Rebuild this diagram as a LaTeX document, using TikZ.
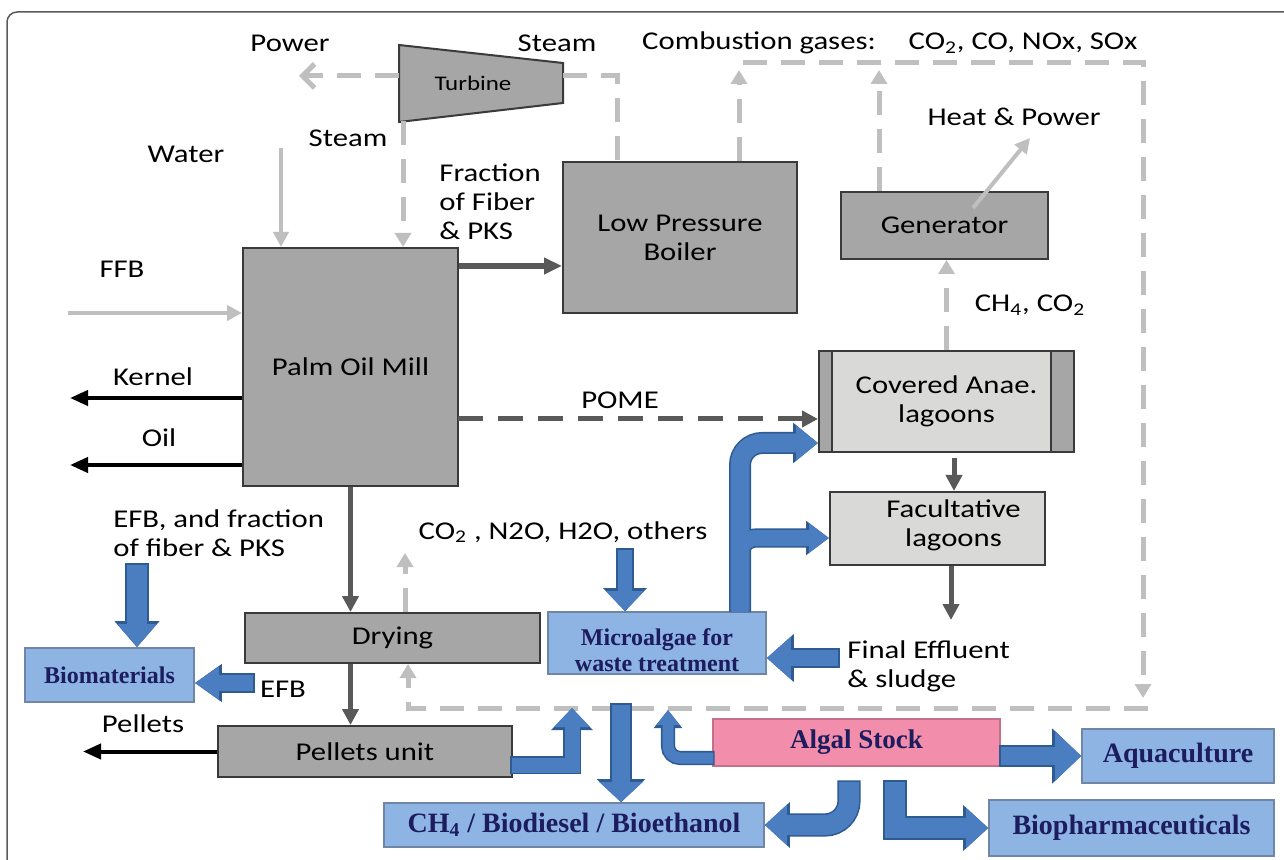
\documentclass[tikz,border=0pt]{standalone}
\usepackage{fontspec}
\setmainfont{Carlito}[FakeStretch=1.2]
\newfontfamily\bluefont{Liberation Serif}
\usetikzlibrary{arrows.meta, positioning}

\definecolor{boxg}{HTML}{A6A6A6}
\definecolor{lagg}{HTML}{D9D9D7}
\definecolor{edge}{HTML}{3A3A3A}
\definecolor{gas}{HTML}{BFBFBF}
\definecolor{dg}{HTML}{595959}
\definecolor{bfill}{HTML}{8DB4E2}
\definecolor{bedge}{HTML}{6F86A6}
\definecolor{navy}{HTML}{1C1C5E}
\definecolor{arw}{HTML}{4A7EC0}
\definecolor{arwe}{HTML}{2F5B93}
\definecolor{algpink}{HTML}{F28DAB}
\definecolor{framec}{HTML}{5A5A5A}

\tikzset{
  gbox/.style={draw=edge, fill=boxg, line width=1pt, inner sep=0pt, align=center,
    font=\fontsize{12.8}{14.5}\selectfont},
  lbox/.style={gbox, fill=lagg},
  covbox/.style={lbox, path picture={
      \fill[boxg] (path picture bounding box.north west) rectangle ([xshift=6.5pt]path picture bounding box.south west);
      \fill[boxg] ([xshift=-11.5pt]path picture bounding box.north east) rectangle (path picture bounding box.south east);
      \draw[edge, line width=1pt] ([xshift=6.5pt]path picture bounding box.north west) -- ([xshift=6.5pt]path picture bounding box.south west);
      \draw[edge, line width=1pt] ([xshift=-11.5pt]path picture bounding box.north east) -- ([xshift=-11.5pt]path picture bounding box.south east);
    }},
  bbox/.style={draw=bedge, fill=bfill, line width=0.8pt, inner sep=0pt, align=center,
    text=navy, font=\bluefont\bfseries\fontsize{14}{15}\selectfont},
  lbl/.style={inner sep=0pt, align=left, font=\fontsize{12.8}{14.5}\selectfont},
  gasline/.style={draw=gas, line width=2.5pt, dash pattern=on 12pt off 7pt},
  gasarr/.style={gasline, -{Triangle[width=8pt,length=7pt]}},
  garr/.style={draw=gas, line width=2pt, -{Triangle[width=7.5pt,length=7.5pt]}},
  darr/.style={draw=dg, line width=2.5pt, -{Triangle[width=8pt,length=8pt]}},
  karr/.style={draw=black, line width=2pt, -{Triangle[width=7.5pt,length=9pt]}},
}

% block arrow: shaft width, head width, head length (pt), path
\newcommand{\blockarrow}[5][]{%
  \pgfmathsetmacro\bsw{#2+1.6}\pgfmathsetmacro\bhw{#3+2.6}\pgfmathsetmacro\bhl{#4+1.5}%
  \draw[draw=arwe, line width=\bsw pt, shorten <=-0.8pt, -{Triangle[width=\bhw pt,length=\bhl pt]}, #1] #5;
  \draw[draw=arw, line width=#2pt, -{Triangle[width=#3pt,length=#4pt]}, #1] #5;}

\begin{document}
\begin{tikzpicture}[x=0.5pt, y=-0.5pt]
  \useasboundingbox (0,0) rectangle (1284,860);
  \fill[white] (0,0) rectangle (1284,860);

  % outer frame
  \draw[framec, line width=0.75pt, rounded corners=5pt] (7,900) |- (1320,12);

  % turbine
  \draw[edge, fill=boxg, line width=1pt] (399,45) -- (563,63) -- (563,103) -- (399,122) -- cycle;
  \node[inner sep=0pt, font=\fontsize{10.4}{12}\selectfont] (turbine) at (473,83) {Turbine};
  \coordinate (turbW) at (399,76);
  \coordinate (turbE) at (563,76);
  \coordinate (turbS) at (403,121.5);

  % process units
  \node[gbox, minimum width=107.5pt, minimum height=119pt] (mill) at (350.5,367) {Palm Oil Mill};
  \node[gbox, minimum width=117pt, minimum height=75.5pt] (boiler) at (680,237.5) {Low Pressure\\Boiler};
  \node[gbox, minimum width=103.5pt, minimum height=33.5pt] (gen) at (944.5,225.5) {Generator};
  \node[covbox, minimum width=127.5pt, minimum height=50.5pt] (covered) at (946.5,401.5) {Covered Anae.\\lagoons};
  \node[lbox, minimum width=107.5pt, minimum height=36.5pt,
    label={[lbl, align=center, xshift=8pt, yshift=1.5pt]center:Facultative\\lagoons}] (fac) at (937.5,528.5) {};
  \node[gbox, minimum width=147.5pt, minimum height=25pt] (drying) at (392.5,638) {Drying};
  \node[gbox, minimum width=147pt, minimum height=25.5pt] (pellets) at (365,751.5) {Pellets unit};

  % algae units
  \node[bbox, minimum width=109pt, minimum height=31pt,
    label={[text=navy, align=center, inner sep=0pt, yshift=-3.5pt, font=\bluefont\bfseries\fontsize{12}{13}\selectfont]center:Microalgae for\\waste treatment}] (micro) at (657,643) {};
  \node[bbox, minimum width=84.5pt, minimum height=27pt, font=\bluefont\bfseries\fontsize{12}{14}\selectfont] (biomat) at (109.5,675) {Biomaterials};
  \node[bbox, fill=algpink, draw=algpink!80!black, minimum width=143.5pt, minimum height=23.5pt, font=\bluefont\bfseries\fontsize{13.5}{15}\selectfont] (algal) at (856.5,742.5) {Algal Stock};
  \node[bbox, minimum width=96pt, minimum height=27pt] (aqua) at (1178,756) {Aquaculture};
  \node[bbox, minimum width=142.5pt, minimum height=28pt] (biopharm) at (1131.5,828) {Biopharmaceuticals};
  \node[bbox, minimum width=190pt, minimum height=22pt] (fuel) at (574,825) {CH\textsubscript{4} / Biodiesel / Bioethanol};

  % labels
  \node[lbl] (power) at (290,43) {Power};
  \node[lbl] (steamtop) at (557,43) {Steam};
  \node[lbl] (steamlow) at (348,138) {Steam};
  \node[lbl] (water) at (186,154) {Water};
  \node[lbl] (ffb) at (122,269) {FFB};
  \node[lbl, anchor=west] (fraction) at (439,201.5) {Fraction\\of Fiber\\\& PKS};
  \node[lbl] (combust) at (759,43) {Combustion gases:};
  \node[lbl] (gases) at (1023,43) {CO\textsubscript{2}, CO, NOx, SOx};
  \node[lbl] (heatpow) at (1014,117) {Heat \& Power};
  \node[lbl] (biogas) at (1030,305) {CH\textsubscript{4}, CO\textsubscript{2}};
  \node[lbl] (pome) at (620,400) {POME};
  \node[lbl] (kernel) at (153,377) {Kernel};
  \node[lbl] (oil) at (159,438) {Oil};
  \node[lbl, anchor=west] (efbtext) at (113,533) {EFB, and fraction\\of fiber \& PKS};
  \node[lbl] (emis) at (563,532) {CO\textsubscript{2} , N2O, H2O, others};
  \node[lbl] (efbsmall) at (283,689) {EFB};
  \node[lbl] (pellettext) at (143,724) {Pellets};
  \node[lbl, anchor=west] (effluent) at (847,666.5) {Final Effluent\\\& sludge};

  % free ends
  \coordinate (powerEnd) at (299,76);
  \coordinate (stm) at (617,76);
  \coordinate (waterA) at (281,148);
  \coordinate (ffbA) at (68,313);
  \coordinate (fib) at ([yshift=-9.5pt]mill.north east);
  \coordinate (cg1) at (739,70);
  \coordinate (cg2) at (879,70);
  \coordinate (topL) at (743,63);
  \coordinate (topR) at (1143,63);
  \coordinate (gasR) at (1143,698);
  \coordinate (botR) at (1148,708);
  \coordinate (botL) at (408,708);
  \coordinate (dg) at (405,553);
  \coordinate (heatA) at (973,208);
  \coordinate (heatB) at (1030,138);
  \coordinate (pm) at (458,419);
  \coordinate (lag) at (954,452);
  \coordinate (effA) at (951,620);
  \coordinate (kn) at (70,398);
  \coordinate (ol) at (70,465);
  \coordinate (pl) at (83,751.5);

  % gas and steam lines
  \draw[gasline, -{Straight Barb[width=12pt,length=6pt]}] (turbW) -- (powerEnd);
  \draw[gasline] (turbE) -- (stm) -- (stm |- boiler.north);
  \draw[gasarr] (turbS) -- (turbS |- mill.north);
  \draw[gasarr] (cg1 |- boiler.north) -- (cg1);
  \draw[gasarr] (cg2 |- gen.north) -- (cg2);
  \draw[gasarr] (topL) -- (topR) -- (gasR);
  \draw[gasarr] (botR) -- (botL) -- (botL |- drying.south);
  \draw[gasarr] (dg |- drying.north) -- (dg);
  \draw[gasarr] (covered.north) -- (covered.north |- gen.south);

  % solid gray inputs
  \draw[garr] (waterA) -- (waterA |- mill.north);
  \draw[garr] (ffbA) -- (ffbA -| mill.west);
  \draw[garr] (heatA) -- (heatB);

  % mill streams
  \draw[darr, line width=3pt, -{Triangle[width=8pt,length=9pt]}] (fib) -- (fib -| boiler.west);
  \draw[darr, dash pattern=on 12.5pt off 7.5pt] (pm) -- (pm -| covered.west);
  \draw[darr, dash pattern=on 12pt off 4pt, shorten <=3pt] (lag) -- (lag |- fac.north);
  \draw[darr] (effA |- fac.south) -- (effA);
  \draw[darr] (mill.south) -- (mill.south |- drying.north);
  \draw[darr] (mill.south |- drying.south) -- (mill.south |- pellets.north);
  \draw[karr] (kn -| mill.west) -- (kn);
  \draw[karr] (ol -| mill.west) -- (ol);
  \draw[karr] (pellets.west) -- (pl);

  % blue flows
  \coordinate (effB) at (838,658);
  \coordinate (emB) at (625,550);
  \coordinate (mu) at (740,612);
  \coordinate (cvIn) at (818,443);
  \coordinate (fcIn) at (829,538);
  \coordinate (plR) at (512,765);
  \coordinate (plU) at (572,708);
  \coordinate (md) at (621,705);
  \coordinate (agL) at (713,758);
  \coordinate (agU) at (668,710);
  \coordinate (af) at (849,782);
  \coordinate (bp) at (895,782);
  \coordinate (efA) at (137,565);
  \coordinate (efB) at (253,683);

  \blockarrow{8}{20.5}{12}{(effB) -- (effB -| micro.east)}
  \blockarrow{7}{18.5}{10}{(emB) -- (emB |- micro.north)}
  \draw[draw=arwe, line width=11pt, rounded corners=11pt, -{Triangle[width=19.5pt,length=12.5pt]}] (mu) |- (cvIn);
  \draw[draw=arwe, line width=9.6pt, rounded corners=8pt, -{Triangle[width=16.5pt,length=11.5pt]}] (mu) |- (fcIn);
  \draw[draw=arw, line width=9.4pt, rounded corners=11pt, -{Triangle[width=17pt,length=11pt]}] (mu) |- (cvIn);
  \draw[draw=arw, line width=8pt, rounded corners=8pt, -{Triangle[width=14pt,length=10pt]}] (mu) |- (fcIn);
  \blockarrow{7.5}{17.5}{9.5}{(plR) -| (plU)}
  \blockarrow{9}{21}{10}{(md) -- (md |- fuel.north)}
  \blockarrow[rounded corners=6pt]{5.5}{11}{7.5}{(agL) -| (agU)}
  \blockarrow{9}{24}{13}{(algal.east |- aqua.west) -- (aqua.west)}
  \blockarrow[rounded corners=12pt]{10}{19.5}{11}{(af) |- (fuel.east)}
  \blockarrow{10}{19.5}{11}{(bp) |- (biopharm.west)}
  \blockarrow{10}{19}{11.5}{(efA) -- (efA |- biomat.north)}
  \blockarrow{8}{15.5}{12}{(efB) -- (efB -| biomat.east)}
\end{tikzpicture}
\end{document}
